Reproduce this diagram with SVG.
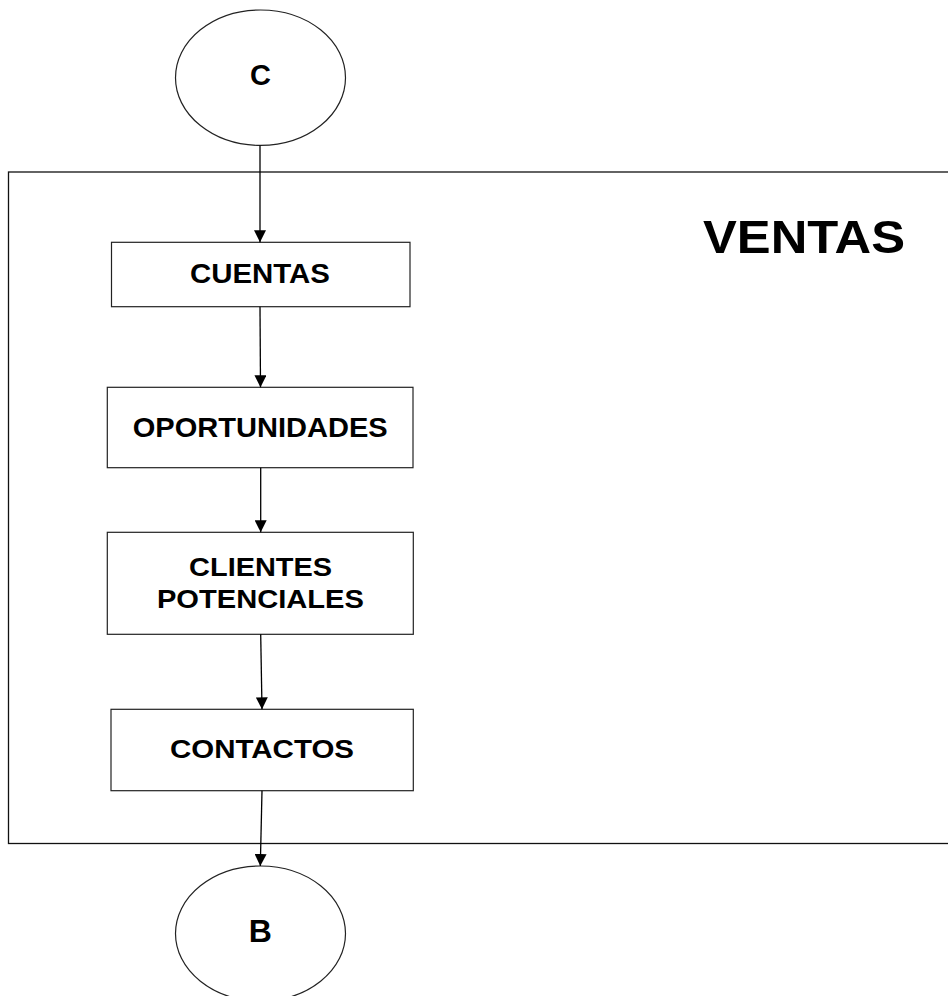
<svg xmlns="http://www.w3.org/2000/svg" width="948" height="996" viewBox="0 0 948 996">
  <style>
    .box { fill: #ffffff; stroke: #222222; stroke-width: 1.2; }
    .frame { fill: none; stroke: #111111; stroke-width: 1.3; }
    .conn { stroke: #000000; stroke-width: 1.3; fill: none; marker-end: url(#arrow); }
    .lbl { font-family: "Liberation Sans", Arial, sans-serif; font-weight: bold; fill: #000000; text-anchor: middle; }
  </style>
  <defs>
    <marker id="arrow" viewBox="0 0 12 12" refX="12" refY="6" markerWidth="12" markerHeight="12" markerUnits="userSpaceOnUse" orient="auto">
      <path d="M0,0 L12,6 L0,12 Z" fill="#000000"/>
    </marker>
  </defs>
  <rect width="948" height="996" fill="#ffffff"/>

  <g id="frame-ventas">
    <rect class="frame" x="8.5" y="172" width="945" height="671.5"/>
    <text class="lbl" x="804" y="253.3" font-size="46" textLength="202" lengthAdjust="spacingAndGlyphs">VENTAS</text>
  </g>

  <g id="node-c">
    <ellipse class="box" cx="260.5" cy="77.7" rx="85" ry="67.7"/>
    <text class="lbl" x="260.4" y="85" font-size="29">C</text>
  </g>

  <g id="node-cuentas">
    <rect class="box" x="111.5" y="242.3" width="298.5" height="64.4"/>
    <text class="lbl" x="260" y="282.7" font-size="27" textLength="140" lengthAdjust="spacingAndGlyphs">CUENTAS</text>
  </g>

  <g id="node-oportunidades">
    <rect class="box" x="107.3" y="387.3" width="305.7" height="80.4"/>
    <text class="lbl" x="260.2" y="436.7" font-size="28" textLength="255" lengthAdjust="spacingAndGlyphs">OPORTUNIDADES</text>
  </g>

  <g id="node-clientes">
    <rect class="box" x="107.3" y="532.3" width="306" height="102"/>
    <text class="lbl" x="260.6" y="575.7" font-size="26" textLength="143" lengthAdjust="spacingAndGlyphs">CLIENTES</text>
    <text class="lbl" x="260.4" y="608.3" font-size="26.5" textLength="207" lengthAdjust="spacingAndGlyphs">POTENCIALES</text>
  </g>

  <g id="node-contactos">
    <rect class="box" x="111" y="709.3" width="302.3" height="81.4"/>
    <text class="lbl" x="262" y="758.3" font-size="26.5" textLength="184" lengthAdjust="spacingAndGlyphs">CONTACTOS</text>
  </g>

  <g id="node-b">
    <ellipse class="box" cx="260.5" cy="933.5" rx="85" ry="67.5"/>
    <text class="lbl" x="260.3" y="942.3" font-size="32">B</text>
  </g>

  <g id="connectors">
    <line class="conn" x1="260" y1="145.4" x2="260" y2="242.3"/>
    <line class="conn" x1="260" y1="306.7" x2="260.5" y2="387.3"/>
    <line class="conn" x1="260.7" y1="467.7" x2="260.7" y2="532.3"/>
    <line class="conn" x1="260.7" y1="634.3" x2="262" y2="709.3"/>
    <line class="conn" x1="262" y1="790.7" x2="260.3" y2="866"/>
  </g>
</svg>
